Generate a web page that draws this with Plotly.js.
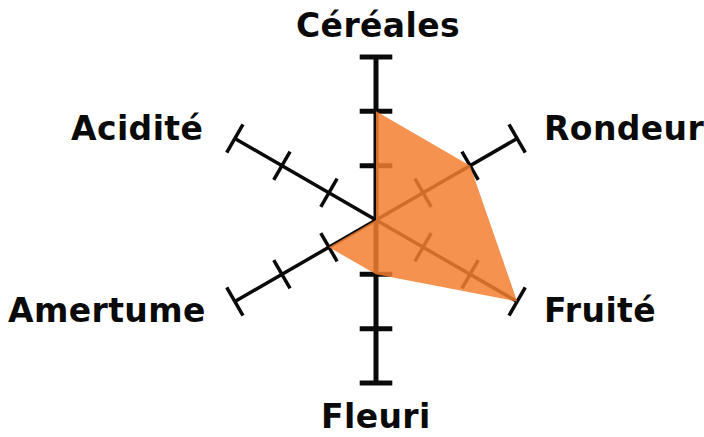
<!DOCTYPE html>
<html><head><meta charset="utf-8">
<script src="https://cdn.plot.ly/plotly-3.0.1.min.js"></script>
<style>
html,body{margin:0;padding:0;background:#fff}
#chart{width:704px;height:437px}
.annotation-text{letter-spacing:0.4px}
</style></head><body><div id="chart"></div>
<script>
const categories = ['Céréales', 'Rondeur', 'Fruité', 'Fleuri', 'Amertume', 'Acidité'];
const values = [2, 2, 3, 1, 1, 0];
const scaleTicks = [1, 2, 3];
const maxValue = 3;

const n = categories.length;
const angles = categories.map((c, i) => i * 360 / n);
const halfTick = 0.3;
const toDeg = 180 / Math.PI;

function axisTrace(i, width) {
  const r = [0, maxValue], t = [angles[i], angles[i]];
  scaleTicks.forEach(v => {
    const rr = Math.sqrt(v * v + halfTick * halfTick);
    const d = Math.atan2(halfTick, v) * toDeg;
    r.push(null, rr, rr);
    t.push(null, angles[i] - d, angles[i] + d);
  });
  return {type: 'scatterpolar', mode: 'lines', r: r, theta: t, thetaunit: 'degrees',
    line: {color: '#0a0a0a', width: width}, connectgaps: false, cliponaxis: false,
    hoverinfo: 'skip', showlegend: false};
}

const traces = categories.map((c, i) => axisTrace(i, (angles[i] % 180 === 0) ? 5 : 3.5));

traces.push({type: 'scatterpolar', mode: 'lines', r: values, theta: angles, thetaunit: 'degrees',
  fill: 'toself', fillcolor: 'rgba(243,127,49,0.85)', line: {width: 0, color: 'rgba(0,0,0,0)'},
  cliponaxis: false, hoverinfo: 'skip', showlegend: false});

const rangeMax = 3.9;
const W = 704, H = 437, cx = 376, cy = 220, unitPx = 163 / maxValue;
const R = unitPx * rangeMax;

// label placement relative to each axis end (style only)
const labelStyle = [
  {xanchor: 'center', yanchor: 'bottom', xshift: 2, yshift: 10},
  {xanchor: 'left', yanchor: 'middle', xshift: 25, yshift: 10},
  {xanchor: 'left', yanchor: 'middle', xshift: 25, yshift: -9},
  {xanchor: 'center', yanchor: 'top', xshift: 0, yshift: -12},
  {xanchor: 'right', yanchor: 'middle', xshift: -27, yshift: -9},
  {xanchor: 'right', yanchor: 'middle', xshift: -30, yshift: 10}
];
const annotations = categories.map((c, i) => {
  const a = angles[i] * Math.PI / 180;
  const px = cx + maxValue * unitPx * Math.sin(a);
  const py = cy - maxValue * unitPx * Math.cos(a);
  return Object.assign({
    text: c, xref: 'paper', yref: 'paper', x: px / W, y: (H - py) / H, showarrow: false,
    font: {family: 'DejaVu Sans', size: 33, weight: 700, color: '#0a0a0a'}
  }, labelStyle[i]);
});

const layout = {
  width: W, height: H, margin: {l: 0, r: 0, t: 0, b: 0},
  paper_bgcolor: '#fff', showlegend: false, annotations: annotations,
  polar: {
    domain: {x: [(cx - R) / W, (cx + R) / W], y: [(H - cy - R) / H, (H - cy + R) / H]},
    bgcolor: 'rgba(0,0,0,0)',
    radialaxis: {range: [0, rangeMax], visible: false, showgrid: false, showline: false, showticklabels: false, ticks: ''},
    angularaxis: {rotation: 90, direction: 'clockwise', visible: false, showgrid: false, showline: false, showticklabels: false, ticks: ''}
  }
};
Plotly.newPlot('chart', traces, layout, {displayModeBar: false, staticPlot: true});
</script></body></html>
